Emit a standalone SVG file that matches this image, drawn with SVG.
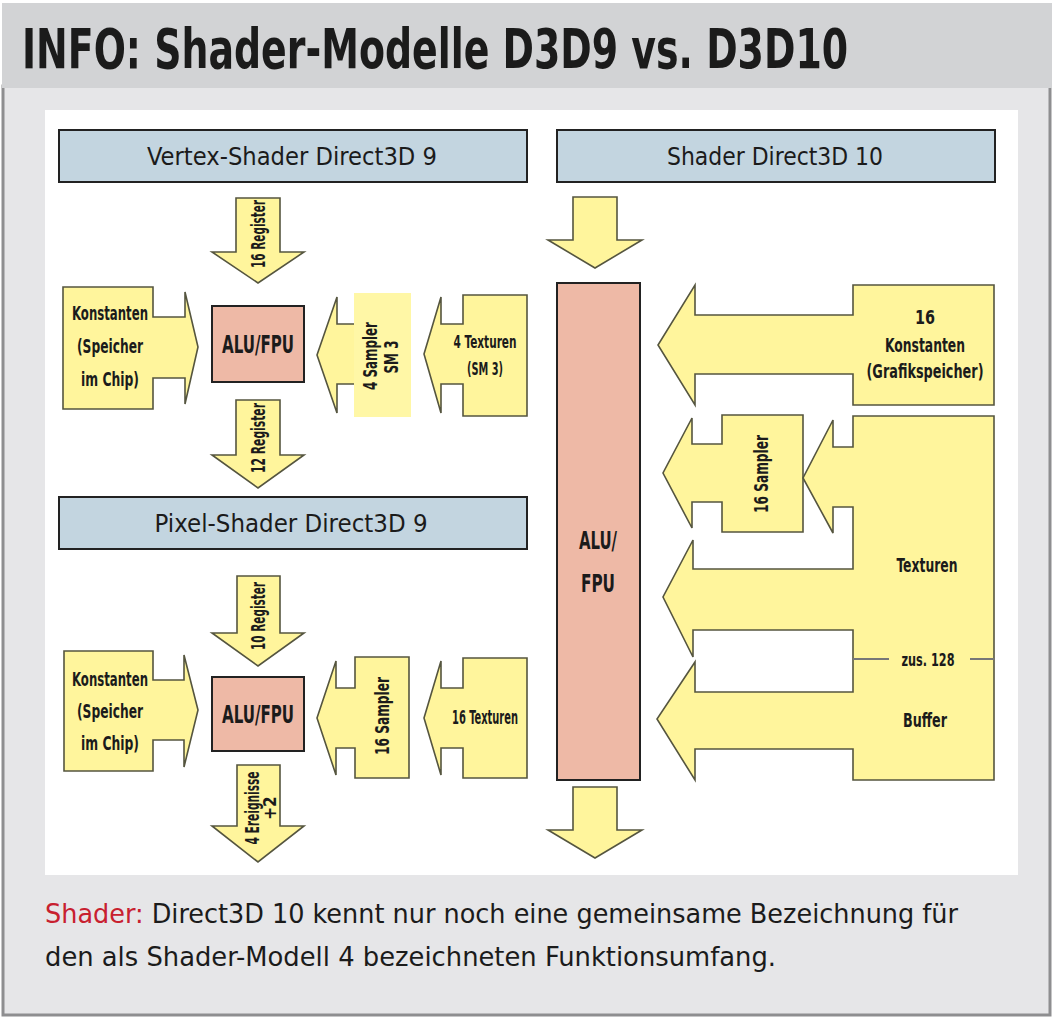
<svg xmlns="http://www.w3.org/2000/svg" width="1054" height="1024" viewBox="0 0 1054 1024">
<style>
text{font-family:"DejaVu Sans Condensed","Liberation Sans Narrow","Liberation Sans",sans-serif;fill:#1b1b1b}
.y{fill:#fff59c;stroke:#55553f;stroke-width:1.6;stroke-linejoin:miter}
.alu{fill:#eeb9a6;stroke:#222;stroke-width:2}
.bar{fill:#c3d5e0;stroke:#222;stroke-width:2}
.bt{font-size:25px;text-anchor:middle}
.lb{font-size:20px;font-weight:bold;text-anchor:middle}
.rt{font-size:19px;font-weight:bold;text-anchor:middle}
.sm{font-size:17px;font-weight:bold;text-anchor:middle}
.at{font-size:25px;font-weight:bold;text-anchor:middle}
</style>
<rect x="0" y="0" width="1054" height="1024" fill="#ffffff"/>
<g id="panel">
<rect x="3" y="86" width="1047" height="929" fill="#e6e6e8" stroke="#8e8e90" stroke-width="3"/>
<rect x="2" y="3" width="1050" height="85" fill="#d2d3d5"/>
<rect x="45" y="110" width="973" height="765" fill="#ffffff"/>
</g>
<g id="title"><text transform="translate(22,68) scale(0.76,1)" x="0" y="0" font-size="56" font-weight="bold" textLength="1087" lengthAdjust="spacingAndGlyphs">INFO: Shader-Modelle D3D9 vs. D3D10</text></g>

<g id="bar-vs"><rect class="bar" x="59" y="130" width="468" height="52"/><text class="bt" x="292" y="165" textLength="290" lengthAdjust="spacingAndGlyphs">Vertex-Shader Direct3D 9</text></g>
<g id="bar-d3d10"><rect class="bar" x="557" y="130" width="438" height="52"/><text class="bt" x="775" y="165" textLength="216" lengthAdjust="spacingAndGlyphs">Shader Direct3D 10</text></g>
<g id="bar-ps"><rect class="bar" x="59" y="497" width="468" height="52"/><text class="bt" x="291" y="532" textLength="273" lengthAdjust="spacingAndGlyphs">Pixel-Shader Direct3D 9</text></g>

<g id="connectors">
<polygon class="y" points="236,198 280,198 280,252 304,252 258,283 212,252 236,252"/>
<text class="rt" transform="translate(265,234) rotate(-90)" textLength="68" lengthAdjust="spacingAndGlyphs">16 Register</text>
<polygon class="y" points="236,400 280,400 280,455 304,455 258,488 212,455 236,455"/>
<text class="rt" transform="translate(265,438) rotate(-90)" textLength="70" lengthAdjust="spacingAndGlyphs">12 Register</text>
<polygon class="y" points="237,576 280,576 280,633 304,633 258,666 212,633 237,633"/>
<text class="rt" transform="translate(265,616) rotate(-90)" textLength="68" lengthAdjust="spacingAndGlyphs">10 Register</text>
<polygon class="y" points="237,765 280,765 280,826 304,826 258,862 212,826 237,826"/>
<text class="rt" transform="translate(259,808) rotate(-90)" textLength="73" lengthAdjust="spacingAndGlyphs">4 Ereignisse</text>
<text class="sm" transform="translate(276,808) rotate(-90)">+2</text>
<polygon class="y" points="573,197 617,197 617,240 642,240 595,268 548,240 573,240"/>
<polygon class="y" points="573,787 617,787 617,830 642,830 595,858 548,830 573,830"/>
</g>

<g id="vs-konstanten">
<polygon class="y" points="63,287 153,287 153,317 185,317 185,292 198,347 185,404 185,378 153,378 153,409 63,409"/>
<text class="lb" x="110" y="320" textLength="76" lengthAdjust="spacingAndGlyphs">Konstanten</text>
<text class="lb" x="110" y="353" textLength="66" lengthAdjust="spacingAndGlyphs">(Speicher</text>
<text class="lb" x="110" y="386" textLength="58" lengthAdjust="spacingAndGlyphs">im Chip)</text>
</g>
<g id="vs-alu"><rect class="alu" x="212" y="306" width="92" height="76"/><text class="at" x="258" y="353" textLength="72" lengthAdjust="spacingAndGlyphs">ALU/FPU</text></g>
<g id="vs-sampler">
<polygon class="y" points="356,324 337,324 337,297 317,355 337,413 337,384 356,384"/>
<rect x="354" y="293" width="57" height="124" fill="#fff7a6"/>
<text class="rt" transform="translate(377,356) rotate(-90)" textLength="68" lengthAdjust="spacingAndGlyphs">4 Sampler</text>
<text class="rt" transform="translate(398,357) rotate(-90)" textLength="33" lengthAdjust="spacingAndGlyphs">SM 3</text>
</g>
<g id="vs-texturen">
<polygon class="y" points="463,295 527,295 527,416 463,416 463,384 441,384 441,413 424,354 441,297 441,324 463,324"/>
<text class="sm" x="485" y="348" textLength="63" lengthAdjust="spacingAndGlyphs">4 Texturen</text>
<text class="sm" x="485" y="375" textLength="36" lengthAdjust="spacingAndGlyphs">(SM 3)</text>
</g>

<g id="ps-konstanten">
<polygon class="y" points="64,651 153,651 153,680 184,680 184,655 198,710 184,767 184,740 153,740 153,771 64,771"/>
<text class="lb" x="110" y="686" textLength="76" lengthAdjust="spacingAndGlyphs">Konstanten</text>
<text class="lb" x="110" y="718" textLength="66" lengthAdjust="spacingAndGlyphs">(Speicher</text>
<text class="lb" x="110" y="750" textLength="58" lengthAdjust="spacingAndGlyphs">im Chip)</text>
</g>
<g id="ps-alu"><rect class="alu" x="212" y="677" width="92" height="74"/><text class="at" x="258" y="723" textLength="72" lengthAdjust="spacingAndGlyphs">ALU/FPU</text></g>
<g id="ps-sampler">
<polygon class="y" points="355,657 409,657 409,778 355,778 355,748 336,748 336,775 317,718 336,661 336,688 355,688"/>
<text class="rt" transform="translate(389,716) rotate(-90)" textLength="78" lengthAdjust="spacingAndGlyphs">16 Sampler</text>
</g>
<g id="ps-texturen">
<polygon class="y" points="463,658 527,658 527,778 463,778 463,748 441,748 441,775 424,718 441,661 441,688 463,688"/>
<text class="lb" x="485" y="724" textLength="66" lengthAdjust="spacingAndGlyphs">16 Texturen</text>
</g>

<g id="d3d10-alu"><rect class="alu" x="557" y="283" width="83" height="497"/>
<text class="at" x="598" y="549" font-size="23" textLength="38" lengthAdjust="spacingAndGlyphs">ALU/</text>
<text class="at" x="598" y="592" font-size="23" textLength="34" lengthAdjust="spacingAndGlyphs">FPU</text>
</g>
<g id="d3d10-konstanten">
<polygon class="y" points="853,285 994,285 994,405 853,405 853,374 695,374 695,405 658,345 695,285 695,315 853,315"/>
<text class="lb" x="925" y="324" textLength="20" lengthAdjust="spacingAndGlyphs">16</text>
<text class="lb" x="925" y="352" textLength="80" lengthAdjust="spacingAndGlyphs">Konstanten</text>
<text class="lb" x="925" y="378" textLength="117" lengthAdjust="spacingAndGlyphs">(Grafikspeicher)</text>
</g>
<g id="d3d10-sampler">
<polygon class="y" points="722,415 803,415 803,532 722,532 722,502 692,502 692,528 663,473 692,418 692,444 722,444"/>
<text class="rt" transform="translate(768,474) rotate(-90)" textLength="78" lengthAdjust="spacingAndGlyphs">16 Sampler</text>
</g>
<g id="d3d10-texturen-buffer">
<polygon class="y" points="853,416 994,416 994,780 853,780 853,749 695,749 695,780 657,719 695,662 695,692 853,692 853,630 693,630 693,657 663,597 693,540 693,569 853,569 853,507 833,507 833,533 803,478 833,420 833,447 853,447"/>
<line x1="853" y1="659" x2="889" y2="659" stroke="#777" stroke-width="2"/>
<line x1="970" y1="659" x2="994" y2="659" stroke="#777" stroke-width="2"/>
<text class="lb" x="927" y="572" textLength="61" lengthAdjust="spacingAndGlyphs">Texturen</text>
<text class="sm" x="928" y="666" textLength="53" lengthAdjust="spacingAndGlyphs">zus. 128</text>
<text class="lb" x="925" y="727" textLength="44" lengthAdjust="spacingAndGlyphs">Buffer</text>
</g>

<g id="caption">
<text x="45" y="923" font-size="27" textLength="913" lengthAdjust="spacingAndGlyphs"><tspan fill="#c8202f">Shader:</tspan> Direct3D 10 kennt nur noch eine gemeinsame Bezeichnung für</text>
<text x="45" y="966" font-size="27" textLength="731" lengthAdjust="spacingAndGlyphs">den als Shader-Modell 4 bezeichneten Funktionsumfang.</text>
</g>
</svg>
